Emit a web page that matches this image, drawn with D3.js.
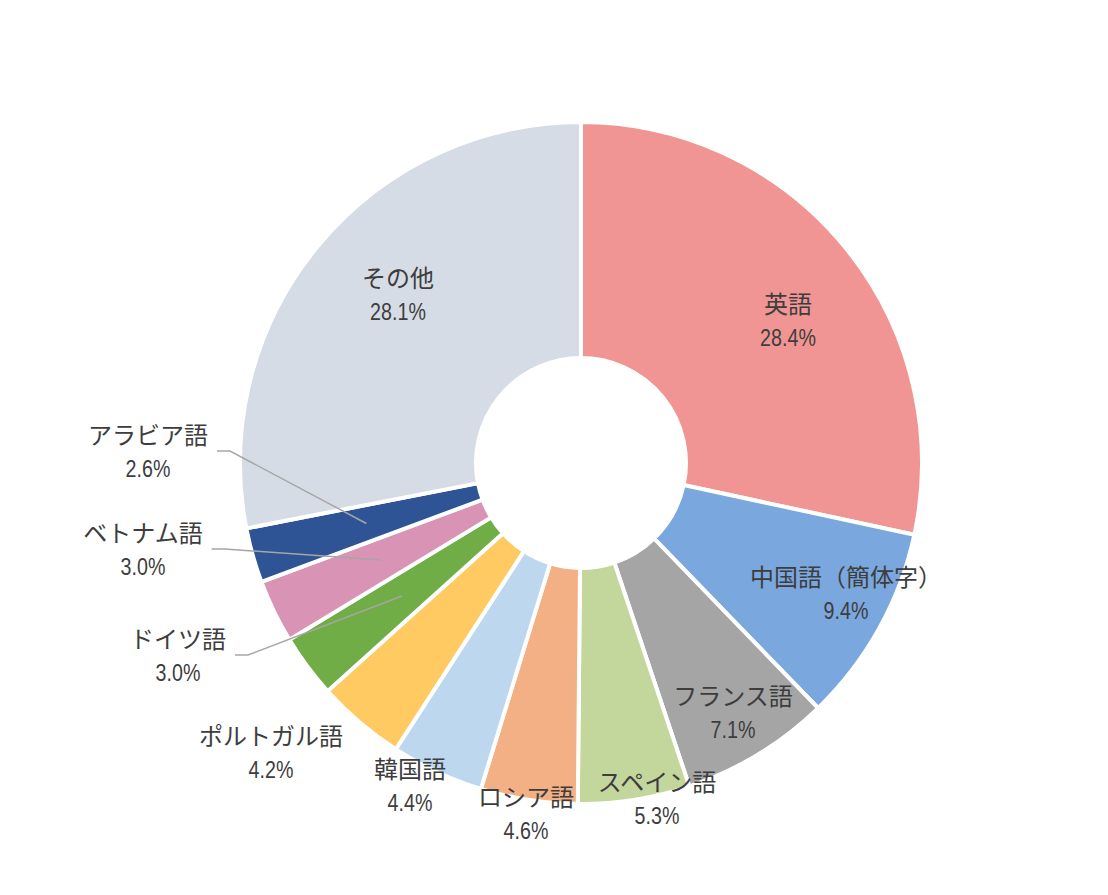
<!DOCTYPE html>
<html><head><meta charset="utf-8">
<script src="https://cdn.jsdelivr.net/npm/d3@7"></script>
<style>
html,body{margin:0;padding:0;background:#fff;}
svg{display:block;}
</style>
</head><body>
<svg id="chart" width="1108" height="895"></svg>
<script>
// ---- data ----
const categories = ["英語","中国語（簡体字）","フランス語","スペイン語","ロシア語","韓国語","ポルトガル語","ドイツ語","ベトナム語","アラビア語","その他"];
const shares = [28.4, 9.4, 7.1, 5.3, 4.6, 4.4, 4.2, 3.0, 3.0, 2.6, 28.1];
const percentLabels = ["28.4%","9.4%","7.1%","5.3%","4.6%","4.4%","4.2%","3.0%","3.0%","2.6%","28.1%"];
const colors = ["#F09593","#7AA7DE","#A5A5A5","#C3D69B","#F2B084","#BDD7EE","#FFCA62","#70AD47","#D993B4","#2F5496","#D6DCE5"];

// ---- layout (label block centres relative to the chart centre) ----
const labelOffsets = [[207,-143],[265,130],[152,249],[76,335],[-55,350],[-171,322],[-310,289],[-403,192],[-438,86],[-433,-12],[-183,-169]];
const leaderLines = [false,false,false,false,false,false,false,true,true,true,false];

const svg = d3.select("#chart");
const cx = 581, cy = 463, outerR = 341, innerR = 105;
const g = svg.append("g").attr("transform", `translate(${cx},${cy})`);

const pie = d3.pie().value(d => d).sort(null);
const arcs = pie(shares);
const arc = d3.arc().innerRadius(innerR).outerRadius(outerR);
const leaderArc = d3.arc().innerRadius(223).outerRadius(223);

g.selectAll("path.slice").data(arcs).join("path")
  .attr("class","slice")
  .attr("d", arc)
  .attr("fill", (d,i) => colors[i])
  .attr("stroke", "#fff")
  .attr("stroke-width", 4)
  .attr("stroke-linejoin", "miter");

const textColor = "#3D3D3D";
const labels = g.selectAll("g.lbl").data(arcs).join("g")
  .attr("class","lbl")
  .attr("transform", (d,i) => `translate(${labelOffsets[i][0]},${labelOffsets[i][1]})`);

labels.append("text")
  .attr("class","name")
  .attr("text-anchor","middle")
  .attr("dominant-baseline","central")
  .attr("y", -18)
  .attr("font-family", "'Noto Sans CJK JP', 'Noto Sans', sans-serif")
  .attr("font-size", 24)
  .attr("fill", textColor)
  .text((d,i) => categories[i]);

labels.append("text")
  .attr("class","pct")
  .attr("text-anchor","middle")
  .attr("dominant-baseline","central")
  .attr("transform","translate(0,18) scale(0.82,1)")
  .attr("font-family", "'Liberation Sans', Arial, sans-serif")
  .attr("font-size", 24)
  .attr("fill", textColor)
  .text((d,i) => percentLabels[i]);

// leader lines
labels.each(function(d,i){
  if(!leaderLines[i]) return;
  const bb = d3.select(this).select("text.name").node().getBBox();
  const sx = labelOffsets[i][0] + bb.x + bb.width + 9;
  const sy = labelOffsets[i][1];
  const end = leaderArc.centroid(d);
  g.append("polyline")
    .attr("points", `${sx},${sy} ${sx+13},${sy} ${end[0]},${end[1]}`)
    .attr("fill","none")
    .attr("stroke","#A6A6A6")
    .attr("stroke-width",1.5);
});
</script>
</body></html>
